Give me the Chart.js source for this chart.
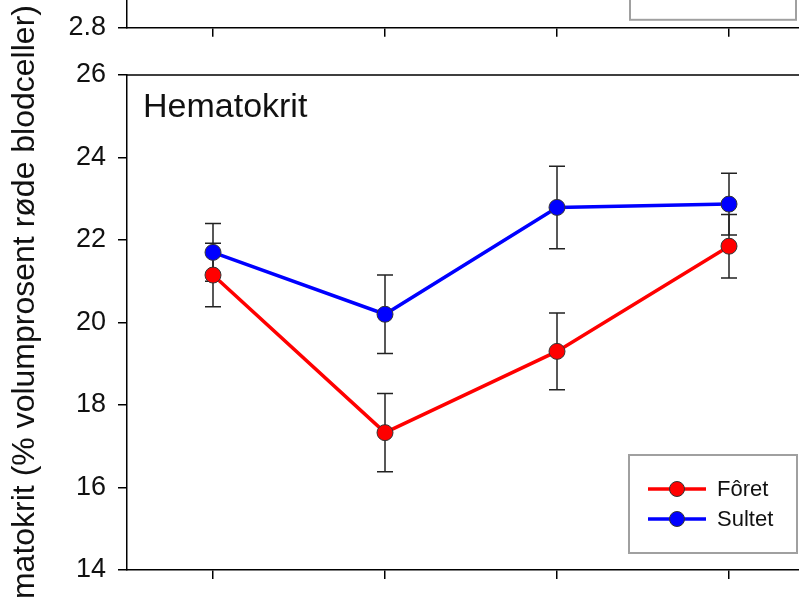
<!DOCTYPE html>
<html>
<head>
<meta charset="utf-8">
<script src="https://cdn.jsdelivr.net/npm/chart.js@4.4.0/dist/chart.umd.min.js"></script>
<style>
    body { margin: 0; background: #fff; overflow: hidden; }
    #ramme { position: relative; width: 799px; height: 599px; overflow: hidden; }
    #grafikkOver { position: absolute; left: 0; top: -144px; }
    #grafikkHematokrit { position: absolute; left: 0; top: 0; }
</style>
</head>
<body>
<div id="ramme">
    <canvas id="grafikkOver" width="830" height="200"></canvas>
    <canvas id="grafikkHematokrit" width="830" height="599"></canvas>
</div>
<script>
const kategorier = ['1', '2', '3', '4'];
const serieNavn = ['Fôret', 'Sultet'];
const serieFarger = ['#ff0000', '#0000ff'];

const foret = [21.15, 17.33, 19.30, 21.85];
const foretFeil = [0.77, 0.95, 0.93, 0.77];
const sultet = [21.70, 20.20, 22.79, 22.87];
const sultetFeil = [0.70, 0.95, 1.00, 0.75];

const yMin = 14;
const yMax = 26;
const ySteg = 2;
const overYMin = 2.8;
const overYMax = 3.4;

const fontNavn = "'Liberation Sans', Arial, sans-serif";
const tekstFarge = '#111';

// feilstolper (± SE) fra dataset.feil
const feilstolper = {
    id: 'feilstolper',
    beforeDatasetsDraw(chart) {
        const ctx = chart.ctx;
        const y = chart.scales.y;
        ctx.save();
        ctx.strokeStyle = '#222';
        ctx.lineWidth = 1.5;
        chart.data.datasets.forEach((ds, i) => {
            const meta = chart.getDatasetMeta(i);
            meta.data.forEach((pt, j) => {
                const topp = y.getPixelForValue(ds.data[j] + ds.feil[j]);
                const bunn = y.getPixelForValue(ds.data[j] - ds.feil[j]);
                ctx.beginPath();
                ctx.moveTo(pt.x, topp); ctx.lineTo(pt.x, bunn);
                ctx.moveTo(pt.x - 8, topp); ctx.lineTo(pt.x + 8, topp);
                ctx.moveTo(pt.x - 8, bunn); ctx.lineTo(pt.x + 8, bunn);
                ctx.stroke();
            });
        });
        ctx.restore();
    }
};

// ramme oppe og tittel inne i plottet
const rammeOgTittel = {
    id: 'rammeOgTittel',
    afterDraw(chart, args, opts) {
        const ctx = chart.ctx;
        const a = chart.chartArea;
        ctx.save();
        if (opts.ramme) {
            ctx.strokeStyle = '#000';
            ctx.lineWidth = 1.5;
            ctx.beginPath();
            ctx.moveTo(a.left, a.top);
            ctx.lineTo(a.right, a.top);
            ctx.lineTo(a.right, a.bottom);
            ctx.stroke();
        }
        if (opts.tekst) {
            ctx.fillStyle = tekstFarge;
            ctx.font = '34px ' + fontNavn;
            ctx.textBaseline = 'alphabetic';
            ctx.fillText(opts.tekst, a.left + 16, a.top + 42);
        }
        ctx.restore();
    }
};

// forklaringsboks nede til høyre
const boksForklaring = {
    id: 'boksForklaring',
    afterDraw(chart, args, opts) {
        const ctx = chart.ctx;
        const a = chart.chartArea;
        const x0 = a.left + opts.venstre;
        const y0 = a.bottom - opts.bunnAvstand - opts.hoyde;
        ctx.save();
        ctx.fillStyle = '#fff';
        ctx.fillRect(x0, y0, opts.bredde, opts.hoyde);
        ctx.strokeStyle = '#a0a0a0';
        ctx.lineWidth = 2;
        ctx.strokeRect(x0, y0, opts.bredde, opts.hoyde);
        serieNavn.forEach((navn, i) => {
            const yy = y0 + 34 + i * 30;
            ctx.strokeStyle = serieFarger[i];
            ctx.lineWidth = 3.5;
            ctx.beginPath();
            ctx.moveTo(x0 + 19, yy);
            ctx.lineTo(x0 + 77, yy);
            ctx.stroke();
            ctx.beginPath();
            ctx.arc(x0 + 48, yy, 7.5, 0, Math.PI * 2);
            ctx.fillStyle = serieFarger[i];
            ctx.fill();
            ctx.strokeStyle = '#333';
            ctx.lineWidth = 1;
            ctx.stroke();
            ctx.fillStyle = tekstFarge;
            ctx.font = '22px ' + fontNavn;
            ctx.textBaseline = 'middle';
            ctx.fillText(navn, x0 + 88, yy + 1);
        });
        ctx.restore();
    }
};

const aksePenn = {
    drawOnChartArea: false,
    drawTicks: true,
    tickLength: 9,
    color: '#000',
    lineWidth: 1.5
};

const data_hematokrit = {
    labels: kategorier,
    datasets: [
        {
            label: serieNavn[0],
            data: foret,
            feil: foretFeil,
            borderColor: serieFarger[0],
            backgroundColor: serieFarger[0],
            pointBackgroundColor: serieFarger[0],
            pointBorderColor: '#333',
            pointBorderWidth: 1,
            pointRadius: 8,
            borderWidth: 3.5,
            tension: 0
        },
        {
            label: serieNavn[1],
            data: sultet,
            feil: sultetFeil,
            borderColor: serieFarger[1],
            backgroundColor: serieFarger[1],
            pointBackgroundColor: serieFarger[1],
            pointBorderColor: '#333',
            pointBorderWidth: 1,
            pointRadius: 8,
            borderWidth: 3.5,
            tension: 0
        }
    ]
};

const config_hematokrit = {
    type: 'line',
    data: data_hematokrit,
    plugins: [feilstolper, rammeOgTittel, boksForklaring],
    options: {
        responsive: false,
        animation: false,
        layout: { padding: { top: 75, right: 15, left: 0, bottom: 0 } },
        scales: {
            x: {
                type: 'category',
                offset: true,
                grid: aksePenn,
                border: { display: true, color: '#000', width: 1.5 },
                ticks: { display: false },
                afterFit(scale) { scale.height = 29; }
            },
            y: {
                min: yMin,
                max: yMax,
                grid: aksePenn,
                border: { display: true, color: '#000', width: 1.5 },
                ticks: {
                    stepSize: ySteg,
                    padding: 12,
                    color: tekstFarge,
                    font: { size: 27, family: fontNavn }
                },
                title: {
                    display: true,
                    text: 'Hematokrit (% volumprosent røde blodceller)',
                    color: tekstFarge,
                    padding: { top: 6, bottom: 0 },
                    font: { size: 32, family: fontNavn }
                },
                afterFit(scale) { scale.width = 127; }
            }
        },
        plugins: {
            legend: { display: false },
            tooltip: { enabled: false },
            rammeOgTittel: { ramme: true, tekst: 'Hematokrit' },
            boksForklaring: { venstre: 502, bunnAvstand: 17, bredde: 168, hoyde: 98 }
        }
    }
};

// nederste del av panelet over (resten er utenfor bildet)
const config_over = {
    type: 'line',
    data: { labels: kategorier, datasets: [] },
    plugins: [boksForklaring],
    options: {
        responsive: false,
        animation: false,
        layout: { padding: { top: 10, right: 15, left: 0, bottom: 0 } },
        scales: {
            x: {
                type: 'category',
                offset: true,
                grid: aksePenn,
                border: { display: true, color: '#000', width: 1.5 },
                ticks: { display: false },
                afterFit(scale) { scale.height = 12; }
            },
            y: {
                min: overYMin,
                max: overYMax,
                grid: aksePenn,
                border: { display: true, color: '#000', width: 1.5 },
                ticks: {
                    stepSize: 0.2,
                    padding: 12,
                    color: tekstFarge,
                    font: { size: 27, family: fontNavn },
                    callback: (v) => v.toFixed(1)
                },
                afterFit(scale) { scale.width = 127; }
            }
        },
        plugins: {
            legend: { display: false },
            tooltip: { enabled: false },
            boksForklaring: { venstre: 503, bunnAvstand: 8, bredde: 166, hoyde: 98 }
        }
    }
};

const grafikkOver = new Chart(document.getElementById('grafikkOver'), config_over);
const grafikkHematokrit = new Chart(document.getElementById('grafikkHematokrit'), config_hematokrit);
</script>
</body>
</html>
